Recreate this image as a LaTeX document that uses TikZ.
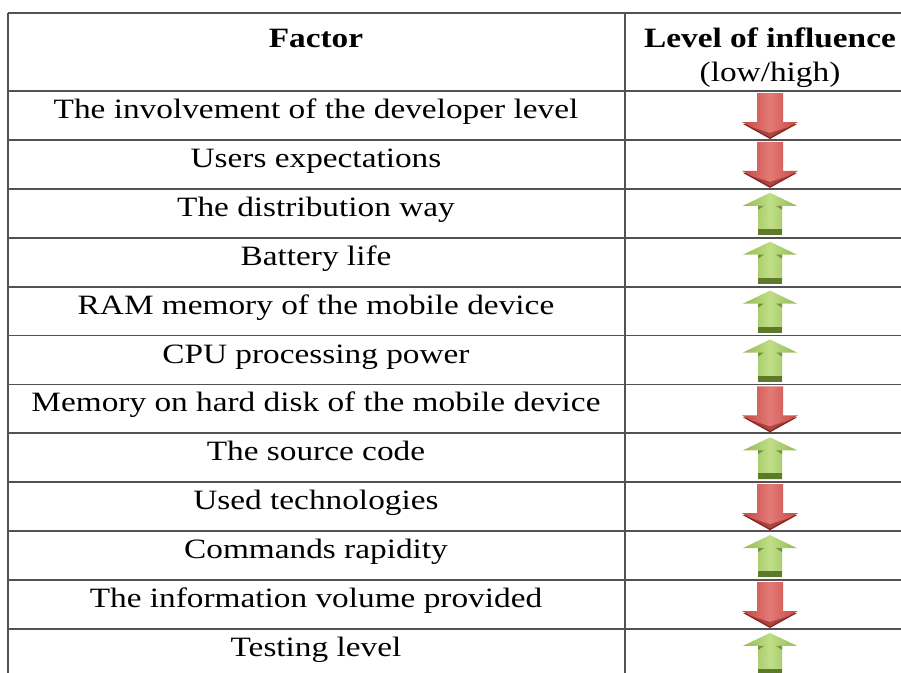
\documentclass[tikz,border=0pt]{standalone}
\usepackage{fontspec}
\setmainfont{Liberation Serif}[FakeStretch=1.19]
\begin{document}
\begin{tikzpicture}[x=1pt,y=-1pt,
  rule/.style={draw=black!68,line width=1.8pt},
  celltext/.style={anchor=base,inner sep=0pt,font=\fontsize{28}{32}\selectfont},
  headtext/.style={anchor=base,inner sep=0pt,font=\fontsize{28}{32}\selectfont\bfseries}]
\definecolor{arrRed}{RGB}{196,72,68}
\definecolor{arrRedL}{RGB}{228,122,118}
\definecolor{arrRedD}{RGB}{135,38,35}
\definecolor{arrGrn}{RGB}{148,186,82}
\definecolor{arrGrnL}{RGB}{192,222,135}
\definecolor{arrGrnD}{RGB}{92,122,42}
\useasboundingbox (0,0) rectangle (901,672);
\fill[white] (0,0) rectangle (901,672);
% grid
\coordinate (tl) at (8,13);
\coordinate (tr) at (905,13);
\coordinate (bl) at (8,680);
\coordinate (cd) at (625,13);
\coordinate (cb) at (625,680);
\draw[rule] (tl) -- (tr);
\draw[rule] (tl) -- (bl);
\draw[rule] (cd) -- (cb);
\foreach \i in {0,...,11} {
  \pgfmathsetmacro{\yy}{91+48.9*\i}
  \coordinate (la\i) at (8,\yy);
  \coordinate (lb\i) at (905,\yy);
  \draw[rule] (la\i) -- (lb\i);
}
% header
\node[headtext] (hfactor) at (316,47) {Factor};
\node[headtext] (hlevel) at (770,47) {Level of influence};
\node[celltext] (hlow) at (770,81) {(low/high)};
% rows
\foreach \t [count=\i] in {The involvement of the developer level,Users expectations,The distribution way,Battery life,RAM memory of the mobile device,CPU processing power,Memory on hard disk of the mobile device,The source code,Used technologies,Commands rapidity,The information volume provided,Testing level} {
  \pgfmathsetmacro{\yy}{91+48.9*(\i-1)+27.5}
  \node[celltext] (f\i) at (316,\yy) {\t};
}
% arrows
\foreach \d [count=\i] in {0,0,1,1,1,1,0,1,0,1,0,1} {
  \pgfmathsetmacro{\tp}{91+48.9*(\i-1)}
  \ifnum\d=0
    % down arrow (red)
    \fill[arrRedD] (743,\tp+33) -- (797,\tp+33) -- (770,\tp+48) -- cycle;
    \shade[left color=arrRed,right color=arrRed,middle color=arrRedL]
      (757,\tp+2) -- (783,\tp+2) -- (783,\tp+31) -- (798,\tp+31) -- (770,\tp+46) -- (742,\tp+31) -- (757,\tp+31) -- cycle;
    \fill[arrRedD,opacity=0.6] (751,\tp+36) -- (770,\tp+46) -- (789,\tp+36) -- (770,\tp+42) -- cycle;
  \else
    % up arrow (green)
    \shade[left color=arrGrn,right color=arrGrn,middle color=arrGrnL]
      (770,\tp+4) -- (797,\tp+17) -- (782,\tp+17) -- (782,\tp+46) -- (758,\tp+46) -- (758,\tp+17) -- (743,\tp+17) -- cycle;
    \fill[arrGrnD] (758,\tp+40) rectangle (782,\tp+46);
    \fill[arrGrnD,opacity=0.7] (758,\tp+17) -- (764,\tp+17) -- (758,\tp+21) -- cycle;
    \fill[arrGrnD,opacity=0.7] (782,\tp+17) -- (776,\tp+17) -- (782,\tp+21) -- cycle;
  \fi
}
\end{tikzpicture}
\end{document}
